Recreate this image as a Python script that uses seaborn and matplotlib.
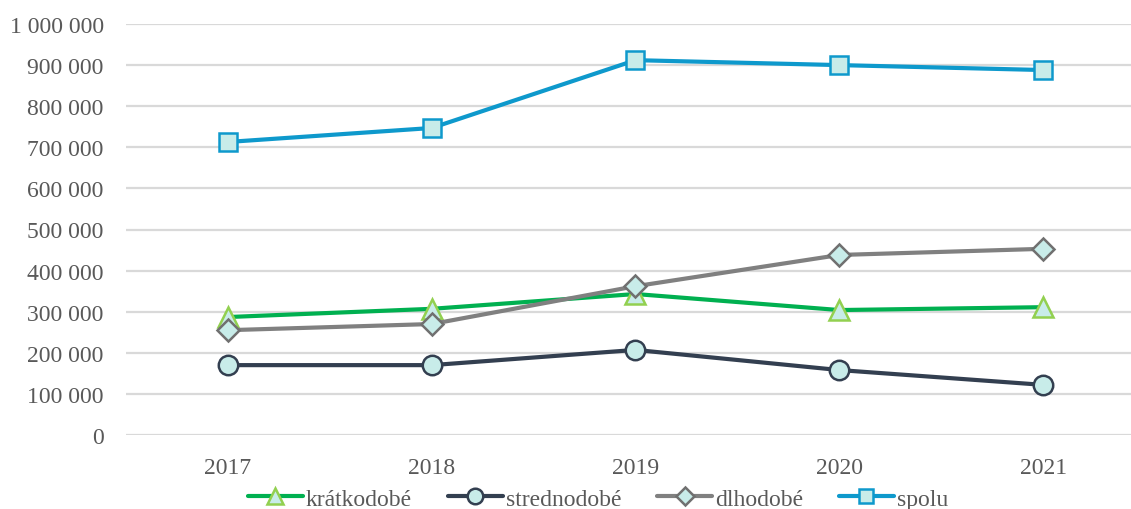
import pandas as pd
import numpy as np
import matplotlib.pyplot as plt
import seaborn as sns
from matplotlib.ticker import FuncFormatter

# data
years = ['2017', '2018', '2019', '2020', '2021']
kratkodobe = [287000, 307000, 343000, 304000, 311000]
strednodobe = [170000, 170000, 207000, 158000, 122000]
dlhodobe = [255000, 270000, 362000, 438000, 453000]
spolu = [713000, 747000, 912000, 900000, 888000]
series_names = ['krátkodobé', 'strednodobé', 'dlhodobé', 'spolu']

df = pd.DataFrame({'rok': years * 4,
                   'hodnota': kratkodobe + strednodobe + dlhodobe + spolu,
                   'typ': np.repeat(series_names, len(years))})

sns.set_theme(style='white')
plt.rcParams['font.family'] = ['Liberation Serif', 'DejaVu Serif']

styles = {
    'krátkodobé': dict(color='#00B050', marker='^', mec='#92D050', ms=15),
    'strednodobé': dict(color='#333F50', marker='o', mec='#333F50', ms=14),
    'dlhodobé': dict(color='#808080', marker='D', mec='#707070', ms=11),
    'spolu': dict(color='#0E99CC', marker='s', mec='#0E99CC', ms=13),
}

fig = plt.figure(figsize=(11.31, 5.10), dpi=100)
ax = fig.add_axes([126 / 1131, 74 / 510, 1 - 126 / 1131, 411 / 510])

for name in series_names:
    st = styles[name]
    sns.lineplot(data=df[df['typ'] == name], x='rok', y='hodnota', ax=ax,
                 color=st['color'], marker=st['marker'], markersize=st['ms'],
                 markerfacecolor='#C8ECE9', markeredgecolor=st['mec'],
                 markeredgewidth=1.8, linewidth=3, label=name, zorder=3)

ax.set_ylim(0, 1000000)
ax.set_yticks(np.arange(0, 1000001, 100000))
ax.yaxis.set_major_formatter(FuncFormatter(lambda v, p: f'{int(v):,}'.replace(',', ' ')))
ax.set_xlim(-0.5, 4.5 - 14 / 204)
ax.grid(axis='y', color='#D9D9D9', linewidth=1.6, zorder=0)
ax.grid(axis='x', visible=False)
for s in ax.spines.values():
    s.set_visible(False)
ax.set_xlabel('')
ax.set_ylabel('')
ax.tick_params(axis='y', length=0, pad=16, labelsize=17, labelcolor='#595959')
ax.tick_params(axis='x', length=0, pad=16, labelsize=17, labelcolor='#595959')

ax.legend(loc='center', bbox_to_anchor=(598 / 1131, 1 - 500 / 510),
          bbox_transform=fig.transFigure, ncol=4, frameon=False, fontsize=17,
          handlelength=2.35, handletextpad=0.12, markerscale=0.8,
          columnspacing=1.5, labelcolor='#595959', borderaxespad=0)

plt.savefig('out.png', dpi=100)
